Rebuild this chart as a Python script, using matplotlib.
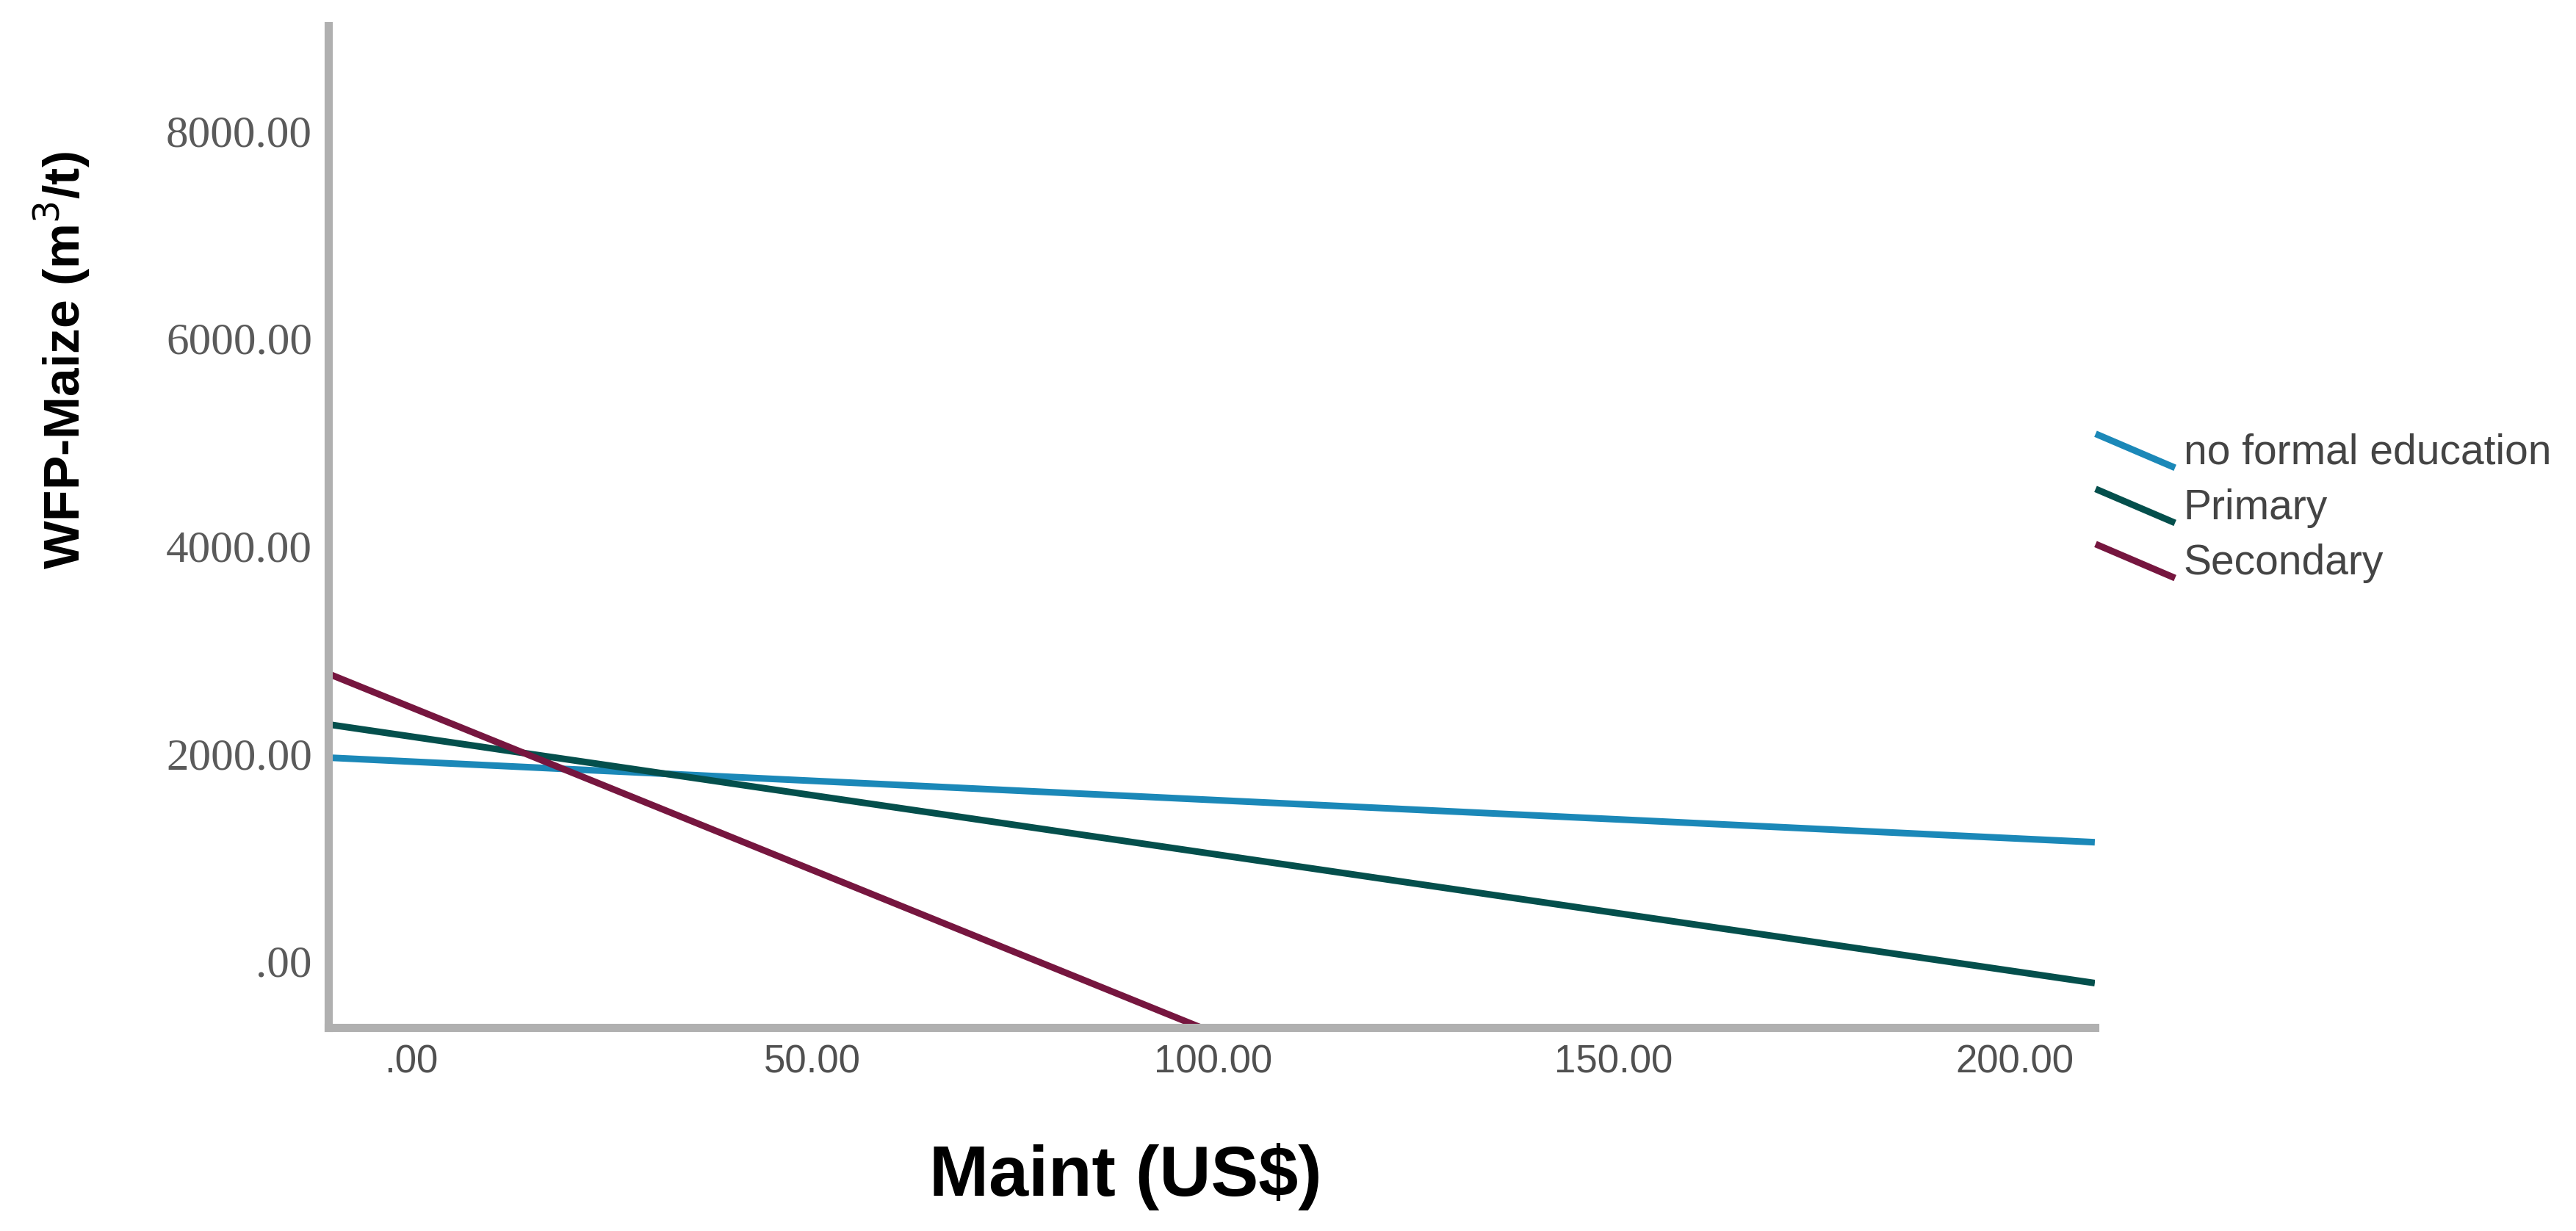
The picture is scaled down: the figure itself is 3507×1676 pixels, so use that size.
import matplotlib
matplotlib.use("Agg")
import matplotlib.pyplot as plt
from matplotlib.lines import Line2D
from matplotlib.legend_handler import HandlerLine2D

# fitted lines, read at the ends of the visible range
series = ["no formal education", "Primary", "Secondary"]
x_ends = [[-10.3, 210.0], [-10.3, 210.0], [-10.3, 98.5]]
y_ends = [[1960, 1145], [2280, -212], [2768, -640]]
colors = ["#1b88b8", "#044f4c", "#76163f"]

x_ticks = [0, 50, 100, 150, 200]
x_labels = [".00", "50.00", "100.00", "150.00", "200.00"]
y_ticks = [0, 2000, 4000, 6000, 8000]
y_labels = [".00", "2000.00", "4000.00", "6000.00", "8000.00"]

SANS = ["Liberation Sans", "DejaVu Sans"]
SERIF = ["Liberation Serif", "DejaVu Serif"]


class SlantHandler(HandlerLine2D):
    # legend key drawn as a short descending diagonal, like SPSS
    def create_artists(self, legend, orig, xdescent, ydescent, width, height, fontsize, trans):
        line = Line2D([-xdescent, -xdescent + width], [height * 1.0, -ydescent - height * 0.1],
                      color=orig.get_color(), lw=orig.get_linewidth(), solid_capstyle="butt")
        line.set_transform(trans)
        return [line]


fig = plt.figure(figsize=(35.07, 16.76), dpi=100)
ax = fig.add_axes([0.1275, 0.1653, 0.8132 - 0.1275, 0.979 - 0.1653])

handles = []
for name, xs, ys, c in zip(series, x_ends, y_ends, colors):
    h, = ax.plot(xs, ys, color=c, lw=6.5, label=name, solid_capstyle="butt")
    handles.append(h)

ax.set_xlim(-10.3, 210)
ax.set_ylim(-640, 9010)
ax.set_xticks(x_ticks)
ax.set_xticklabels(x_labels, fontfamily=SANS, fontsize=38, color="#505050")
ax.set_yticks(y_ticks)
ax.set_yticklabels(y_labels, fontfamily=SERIF, fontsize=44, color="#5a5a5a")
ax.tick_params(axis="x", length=0, pad=16)
ax.tick_params(axis="y", length=0, pad=16)

for s in ["top", "right"]:
    ax.spines[s].set_visible(False)
for s in ["left", "bottom"]:
    ax.spines[s].set_color("#b0b0b0")
    ax.spines[s].set_linewidth(8)

fig.text(0.024, 0.707, "WFP-Maize (m$^{3}$/t)", rotation=90, ha="center", va="center",
         fontfamily=SANS, fontweight="bold", fontsize=50, color="black")
fig.text(0.437, 0.044, "Maint (US$)", ha="center", va="center",
         fontfamily=SANS, fontweight="bold", fontsize=70, color="black")

leg = fig.legend(handles=handles, loc="upper left", bbox_to_anchor=(0.8135, 0.648),
                 frameon=False, handler_map={Line2D: SlantHandler()},
                 prop={"family": SANS, "size": 41}, labelcolor="#444444",
                 handlelength=1.9, handleheight=0.74, handletextpad=0.2,
                 labelspacing=0.37, borderpad=0, borderaxespad=0)

fig.savefig("out.png", dpi=100, facecolor="white")
